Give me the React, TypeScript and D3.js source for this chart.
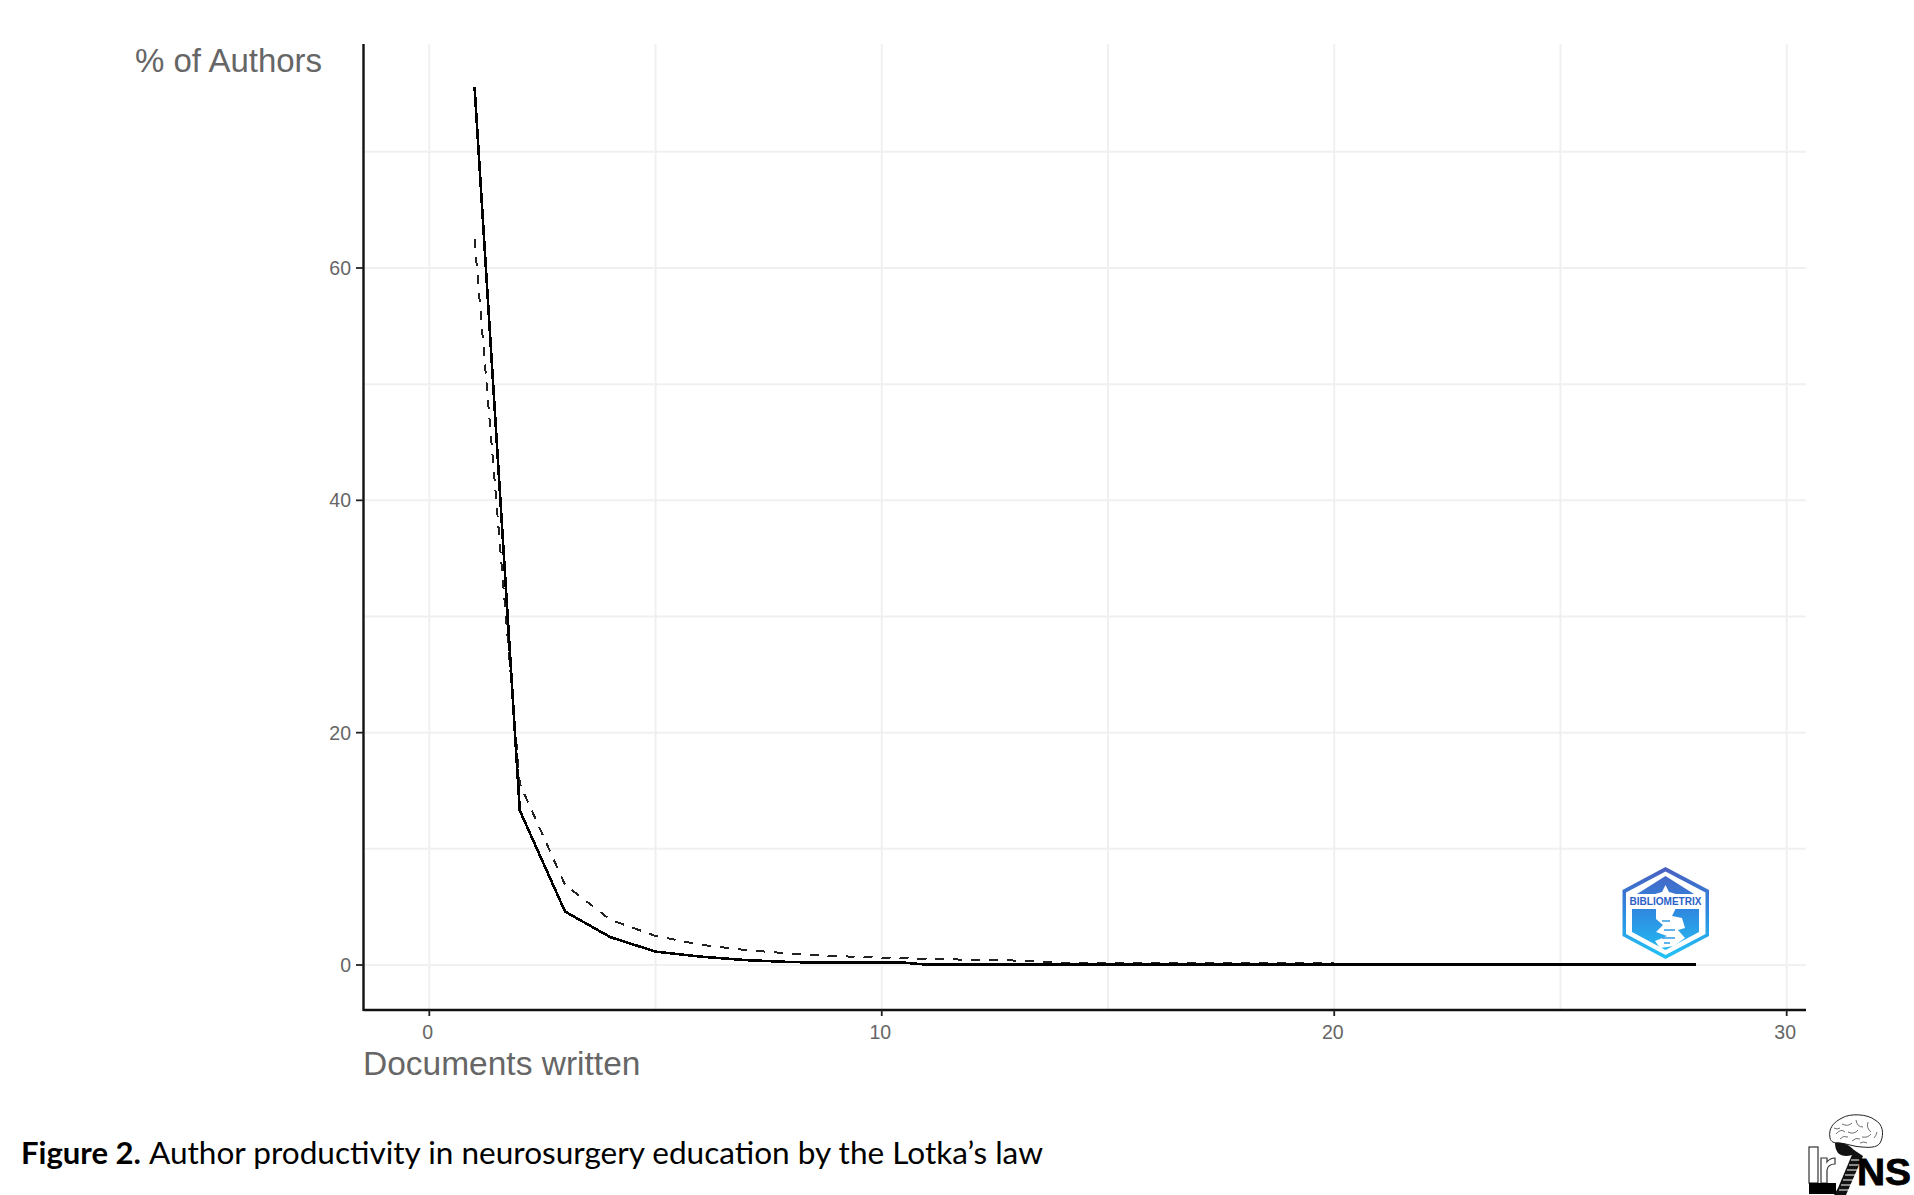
import React from "react";
import * as d3 from "d3";

const documents = [1,2,3,4,5,6,7,8,9,10,10.5,11,12,13,14,15,16,17,18,19,20,21,22,23,24,25,26,27,28];
const observed = [75.6,13.3,4.6,2.4,1.15,0.72,0.42,0.25,0.2,0.2,0.2,0.03,0.03,0.03,0.03,0.03,0.03,0.03,0.03,0.03,0.03,0.03,0.03,0.03,0.03,0.03,0.03,0.03,0.03];
const lotkaX = [1,2,3,4,5,6,7,8,9,10,11,12,13,14,15,16,17,18,19,20];
const lotka = [62.5,15.6,6.9,3.9,2.5,1.74,1.28,0.98,0.77,0.62,0.52,0.45,0.38,0.2,0.19,0.18,0.17,0.17,0.16,0.16];
const xMajor = [0,10,20,30];
const xMinor = [5,15,25];
const yMajor = [0,20,40,60];
const yMinor = [10,30,50,70];
const xTitle = "Documents written";
const yTitle = "% of Authors";
const captionBold = "Figure 2.";
const captionText = "Author productivity in neurosurgery education by the Lotka\u2019s law";

const x = d3.scaleLinear().domain([0, 30]).range([429.3, 1786.7]);
const y = d3.scaleLinear().domain([0, 60]).range([965, 268]);
const plot = { left: 363.5, right: 1806, top: 44, bottom: 1010 };
const sans = "'Liberation Sans', Arial, sans-serif";
const grid = "#f0f0f0";
const txt = "#666666";

const solidPath = d3.line<number>().x((d) => x(d)).y((_, i) => y(observed[i]))(documents) as string;
const dashPath = d3.line<number>().x((d) => x(d)).y((_, i) => y(lotka[i]))(lotkaX) as string;

function Bibliometrix() {
  return (
    <g>
      <defs>
        <linearGradient id="hexGradU" gradientUnits="userSpaceOnUse" x1="0" y1="867" x2="0" y2="959">
          <stop offset="0" stopColor="#4a5fc0" />
          <stop offset="0.45" stopColor="#2f86de" />
          <stop offset="1" stopColor="#22c4f6" />
        </linearGradient>
      </defs>
      <polygon points="1665.5,867 1709,890 1709,936 1665.5,959 1622.5,936 1622.5,890" fill="url(#hexGradU)" />
      <polygon points="1665.5,871.5 1705.5,892.5 1705.5,934 1665.5,955 1626,934 1626,892.5" fill="#fff" />
      <polygon points="1665.5,876 1694,894 1637,894" fill="url(#hexGradU)" />
      <polygon points="1665.5,885 1669,892 1676,894 1671,899 1660,899 1655,894 1662,892" fill="#fff" />
      <polygon points="1632,909 1699,909 1699,932 1665.5,950 1632,932" fill="url(#hexGradU)" />
      <rect x="1628" y="896" width="75" height="10" fill="#fff" />
      <text x="1665.5" y="905" textAnchor="middle" fontFamily={sans} fontWeight={700} fontSize={10.5} fill="#2b62c8" textLength={72} lengthAdjust="spacingAndGlyphs">BIBLIOMETRIX</text>
      <path d="M1656 906 L1677 906 L1672 916 L1682 918 L1685 928 L1678 930 L1685 938 L1674 946 L1660 948 L1655 941 L1667 936 L1656 932 L1663 925 L1656 919 Z" fill="#fff" />
      <path d="M1662 921 h8 M1664 930 h11 M1662 938 h13 M1664 943 h6" stroke="#2f9be6" strokeWidth={1.5} />
    </g>
  );
}

function IrjnsLogo() {
  return (
    <g>
      <path d="M1830 1138 C1828 1128 1834 1122 1842 1118 C1850 1113 1868 1114 1875 1120 C1883 1124 1884 1134 1881 1141 C1879 1147 1872 1148 1862 1147 C1854 1147 1846 1143 1838 1143 C1834 1143 1831 1142 1830 1138 Z" fill="#fff" stroke="#222" strokeWidth={1} />
      <path d="M1836 1134 q5 -6 9 -2 M1842 1124 q6 3 10 -1 M1856 1120 q1 7 7 7 M1868 1122 q-2 6 3 10 M1848 1132 q6 3 10 -2 M1862 1137 q6 1 9 -3 M1840 1139 q3 -4 8 -2 M1852 1141 q4 -4 8 -2 M1874 1138 q2 -2 3 -6 M1834 1128 q3 2 6 0 M1860 1143 q4 -2 7 0" fill="none" stroke="#333" strokeWidth={0.7} />
      <path d="M1835 1143 C1842 1141 1852 1146 1856 1153 C1850 1157 1842 1157 1838 1153 C1836 1150 1835 1147 1835 1143 Z" fill="#111" />
      <path d="M1854 1150 L1838 1188 L1834 1195 L1846 1195 L1863 1156 Z" fill="#111" />
      <path d="M1851 1160 h10 M1849 1165 h10 M1847 1170 h10 M1845 1175 h10 M1843 1180 h10 M1841 1185 h10 M1839 1190 h10" stroke="#fff" strokeWidth={1.2} />
      <rect x="1809" y="1147" width="9" height="36" fill="#fff" stroke="#333" strokeWidth={1.2} />
      <path d="M1821 1183 V1158 H1827 V1162 Q1830 1158 1835 1158 V1164 Q1828 1164 1827 1170 V1183 Z" fill="#fff" stroke="#333" strokeWidth={1.2} />
      <rect x="1809" y="1183" width="27" height="11" fill="#000" />
      <text x="1857" y="1185" fontFamily={sans} fontWeight={700} fontSize={36} fill="#000" stroke="#000" strokeWidth={0.8} textLength={54} lengthAdjust="spacingAndGlyphs">NS</text>
    </g>
  );
}

export default function App() {
  return (
    <svg width={1914} height={1195} viewBox="0 0 1914 1195" style={{ position: "absolute", left: 0, top: 0, background: "#fff" }}>
      {xMinor.concat(xMajor).map((d) => (
        <line key={"gx" + d} x1={x(d)} x2={x(d)} y1={plot.top} y2={plot.bottom} stroke={grid} strokeWidth={2} />
      ))}
      {yMinor.concat(yMajor).map((d) => (
        <line key={"gy" + d} x1={plot.left} x2={plot.right} y1={y(d)} y2={y(d)} stroke={grid} strokeWidth={2} />
      ))}

      <path d={dashPath} fill="none" stroke="#222" strokeWidth={2} strokeDasharray="9 9" shapeRendering="crispEdges" />
      <path d={solidPath} fill="none" stroke="#000" strokeWidth={2.6} shapeRendering="crispEdges" />

      <line x1={plot.left} x2={plot.left} y1={plot.top} y2={plot.bottom + 1} stroke="#111" strokeWidth={2.4} />
      <line x1={plot.left} x2={plot.right} y1={plot.bottom} y2={plot.bottom} stroke="#111" strokeWidth={2.4} />

      {yMajor.map((d) => (
        <g key={"ty" + d}>
          <line x1={plot.left - 7.5} x2={plot.left} y1={y(d)} y2={y(d)} stroke="#222" strokeWidth={1.8} />
          <text x={351} y={y(d) + 7} textAnchor="end" fontFamily={sans} fontSize={19.5} fill={txt}>{d}</text>
        </g>
      ))}
      {xMajor.map((d) => (
        <g key={"tx" + d}>
          <line x1={x(d)} x2={x(d)} y1={plot.bottom} y2={plot.bottom + 6} stroke="#222" strokeWidth={1.8} />
          <text x={x(d) - 1.5} y={1038.5} textAnchor="middle" fontFamily={sans} fontSize={19.5} fill={txt}>{d}</text>
        </g>
      ))}

      <text x={135} y={71.5} fontFamily={sans} fontSize={33} fill={txt}>{yTitle}</text>
      <text x={363} y={1075} fontFamily={sans} fontSize={33.5} fill={txt}>{xTitle}</text>

      <Bibliometrix />
      <IrjnsLogo />

      <text x={21} y={1164} fontFamily="Lato, 'Open Sans', sans-serif" fontWeight={700} fontSize={30} fill="#000" textLength={120} lengthAdjust="spacingAndGlyphs">{captionBold}</text>
      <text x={149} y={1164} fontFamily="Lato, 'Open Sans', sans-serif" fontSize={30} fill="#000" textLength={894} lengthAdjust="spacingAndGlyphs">{captionText}</text>
    </svg>
  );
}
